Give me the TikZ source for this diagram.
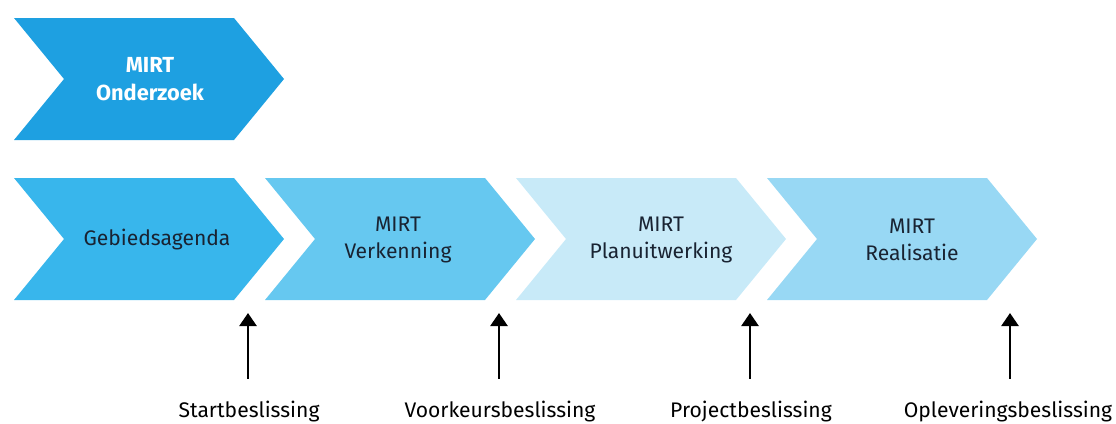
\documentclass[tikz,border=0pt]{standalone}
\usepackage{fontspec}
\setmainfont{Fira Sans}
\usetikzlibrary{positioning,arrows.meta}

\definecolor{chevtop}{RGB}{30,160,225}
\definecolor{chevone}{RGB}{56,182,236}
\definecolor{chevtwo}{RGB}{102,200,240}
\definecolor{chevthree}{RGB}{200,234,248}
\definecolor{chevfour}{RGB}{152,216,244}
\definecolor{inkdark}{RGB}{25,35,50}

\begin{document}
\begin{tikzpicture}[x=0.025cm,y=-0.025cm,
    phase/.style={align=center,font=\fontsize{15}{19.5}\selectfont,text=inkdark},
    besluit/.style={anchor=base,inner sep=0pt,text height=10pt,font=\fontsize{15}{18}\selectfont},
    besluitpijl/.style={line width=2pt,-{Triangle[width=0.43cm,length=0.33cm]},shorten <=0.6cm}]
\useasboundingbox (0,0) rectangle (1116,423);
    % MIRT Onderzoek on its own
    \fill[chevtop] (14,18) -- ++(220,0) -- ++(50,61) -- ++(-50,61)
        -- ++(-220,0) -- ++(50,-61) -- cycle;
    \node[phase,text=white,font=\fontsize{15.5}{19.5}\selectfont\bfseries] (onderzoek) at (150,79) {MIRT\\Onderzoek};
    % the four phases
    \foreach \x/\c in {14/chevone,265/chevtwo,516/chevthree,767/chevfour} {
        \fill[\c] (\x,178) -- ++(220,0) -- ++(50,61) -- ++(-50,61)
            -- ++(-220,0) -- ++(50,-61) -- cycle;
    }
    \node[phase] (gebied) at (157,240) {Gebiedsagenda};
    \node[phase] (verkenning) at (398,240) {MIRT\\Verkenning};
    \node[phase] (planuit) at (661,240) {MIRT\\Planuitwerking};
    \node[phase] (realisatie) at (912,240) {MIRT\\Realisatie};
    % decisions
    \coordinate (gap1) at (248,313);
    \coordinate (gap2) at (499,313);
    \coordinate (gap3) at (750,313);
    \coordinate (gap4) at (1010,313);
    \node[besluit] (start) at (249,417) {Startbeslissing};
    \node[besluit] (voorkeur) at (500,417) {Voorkeursbeslissing};
    \node[besluit] (project) at (751,417) {Projectbeslissing};
    \node[besluit] (oplevering) at (1008,417) {Opleveringsbeslissing};
    \draw[besluitpijl] (start.north -| gap1) -- (gap1);
    \draw[besluitpijl] (voorkeur.north -| gap2) -- (gap2);
    \draw[besluitpijl] (project.north -| gap3) -- (gap3);
    \draw[besluitpijl] (oplevering.north -| gap4) -- (gap4);
\end{tikzpicture}
\end{document}
